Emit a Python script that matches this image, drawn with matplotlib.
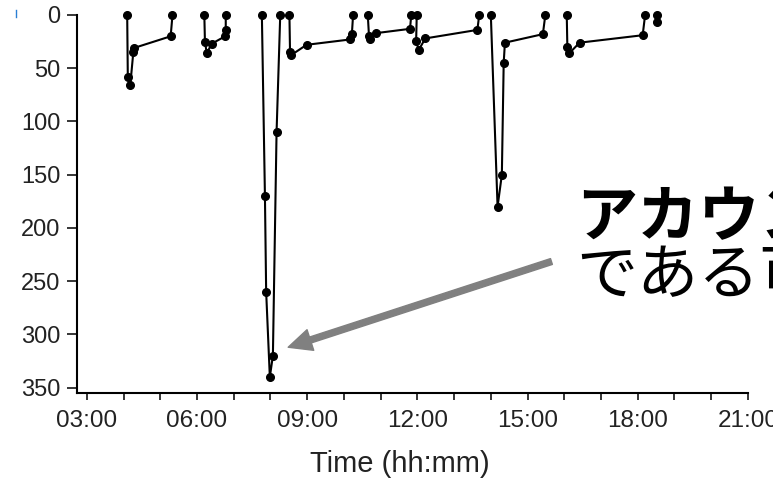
import matplotlib
matplotlib.use("Agg")
import numpy as np
import pandas as pd
import matplotlib.pyplot as plt
import matplotlib.dates as mdates
from matplotlib.lines import Line2D

# Sesiones (cada una empieza y termina en 0)
session = [1, 1, 1, 1, 1, 1, 1,
           2, 2, 2, 2, 2, 2, 2,
           3, 3, 3, 3, 3, 3, 3,
           4, 4, 4, 4, 4, 4, 4,
           5, 5, 5, 5, 5, 5,
           6, 6, 6, 6, 6, 6,
           7, 7, 7, 7, 7, 7, 7,
           8, 8, 8, 8, 8, 8,
           9, 9]
times = ["04:06", "04:07", "04:11", "04:16", "04:17", "05:17", "05:20",
         "06:12", "06:13", "06:16", "06:24", "06:46", "06:47", "06:47",
         "07:46", "07:51", "07:53", "07:59", "08:04", "08:10", "08:16",
         "08:31", "08:32", "08:33", "08:59", "10:10", "10:13", "10:15",
         "10:39", "10:41", "10:43", "10:53", "11:48", "11:50",
         "11:59", "11:58", "12:02", "12:13", "13:38", "13:41",
         "14:00", "14:11", "14:18", "14:21", "14:23", "15:25", "15:29",
         "16:04", "16:05", "16:08", "16:25", "18:08", "18:12",
         "18:31", "18:31"]
values = [0, 58, 66, 35, 31, 20, 0,
          0, 25, 36, 27, 20, 14, 0,
          0, 170, 260, 340, 320, 110, 0,
          0, 35, 38, 28, 23, 18, 0,
          0, 20, 23, 17, 13, 0,
          0, 24, 33, 22, 14, 0,
          0, 180, 150, 45, 26, 18, 0,
          0, 30, 36, 26, 19, 0,
          0, 7]

yticks = [0, 50, 100, 150, 200, 250, 300, 350]
label_line1 = "アカウント乗っ取り"
label_line2 = "である可能性が高い"

plt.rcParams['font.family'] = ['Liberation Sans', 'DejaVu Sans']

df = pd.DataFrame({"session": session, "value": values,
                   "time": pd.to_datetime(["2000-01-01 " + t for t in times])})

fig = plt.figure(figsize=(7.73, 4.82), dpi=100)
ax = fig.add_axes([0.0996, 0.1846, 0.868, 0.7843])

for s, g in df.groupby("session"):
    ax.plot(g["time"], g["value"], color="black", lw=1.5, marker="o",
            markersize=5.5, clip_on=False, zorder=3)

ax.set_xlim(pd.Timestamp("2000-01-01 02:44"), pd.Timestamp("2000-01-01 21:00"))
ax.set_ylim(355, 0)
ax.set_yticks(yticks)
ax.xaxis.set_major_locator(mdates.HourLocator(byhour=range(3, 22, 3)))
ax.xaxis.set_minor_locator(mdates.HourLocator())
ax.xaxis.set_major_formatter(mdates.DateFormatter("%H:%M"))

for side in ["top", "right"]:
    ax.spines[side].set_visible(False)
for side in ["left", "bottom"]:
    ax.spines[side].set_linewidth(1.5)
ax.tick_params(axis="both", which="both", width=1.1, colors="black",
               labelcolor="#222222")
ax.tick_params(axis="y", length=7, pad=5, labelsize=17)
ax.tick_params(axis="x", which="both", length=5, pad=7, labelsize=17.5)
ax.set_xlabel("Time (hh:mm)", fontsize=21, color="#222222")
ax.xaxis.set_label_coords(0.481, -0.152)

# flecha gris
ax.annotate("", xy=(pd.Timestamp("2000-01-01 08:29"), 312),
            xytext=(pd.Timestamp("2000-01-01 15:39"), 231.5),
            arrowprops=dict(arrowstyle="simple,head_length=0.84,head_width=0.78,tail_width=0.22",
                            color="#808080", mutation_scale=20, shrinkA=0, shrinkB=0),
            annotation_clip=False)

fig.text(0.745, 0.548, label_line1, fontsize=44, fontweight="bold",
         family=["Noto Sans CJK JP"], va="center", ha="left")
fig.text(0.745, 0.425, label_line2, fontsize=44,
         family=["Noto Sans CJK JP"], va="center", ha="left")

# marca azul en la esquina
fig.add_artist(Line2D([16 / 773, 16 / 773], [1 - 10 / 482, 1 - 17 / 482],
                      color="#2a7fd4", lw=1))

fig.savefig("out.png", dpi=100)
